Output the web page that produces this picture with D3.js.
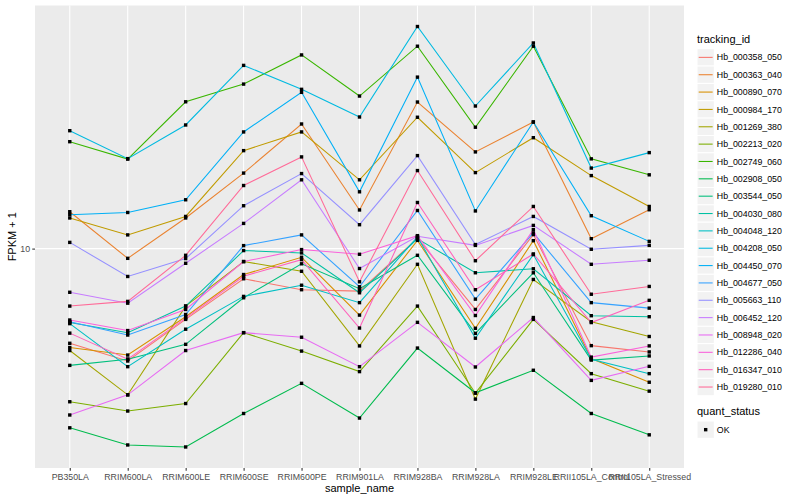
<!DOCTYPE html>
<html>
<head>
<meta charset="utf-8">
<script src="https://cdn.jsdelivr.net/npm/d3@7"></script>
<style>
  body { margin: 0; background: #fff; }
  text { font-family: "Liberation Sans", Arial, sans-serif; }
</style>
</head>
<body>
<svg id="chart" width="800" height="500"></svg>
<script>
// sample names (x axis)
var samples = ["PB350LA", "RRIM600LA", "RRIM600LE", "RRIM600SE", "RRIM600PE", "RRIM901LA",
               "RRIM928BA", "RRIM928LA", "RRIM928LE", "RRII105LA_Control", "RRII105LA_Stressed"];

var trackingIds = ["Hb_000358_050", "Hb_000363_040", "Hb_000890_070", "Hb_000984_170", "Hb_001269_380",
                   "Hb_002213_020", "Hb_002749_060", "Hb_002908_050", "Hb_003544_050", "Hb_004030_080",
                   "Hb_004048_120", "Hb_004208_050", "Hb_004450_070", "Hb_004677_050", "Hb_005663_110",
                   "Hb_006452_120", "Hb_008948_020", "Hb_012286_040", "Hb_016347_010", "Hb_019280_010"];

// FPKM + 1, one array per gene, in sample order
var hb_000358_050 = [4.17, 3.54, 5.20, 7.57, 6.84, 6.75, 10.99, 5.70, 11.38, 4.08, 3.85];
var hb_000363_040 = [14.06, 9.14, 13.27, 20.09, 31.62, 14.29, 38.73, 24.43, 32.21, 10.96, 14.32];
var hb_000890_070 = [4.01, 3.74, 5.33, 7.87, 9.23, 5.41, 10.79, 4.79, 10.76, 3.62, 2.91];
var hb_000984_170 = [13.27, 11.35, 13.46, 24.72, 29.38, 18.88, 33.65, 20.18, 27.86, 19.63, 14.76];
var hb_001269_380 = [3.90, 2.59, 5.88, 8.87, 8.11, 4.07, 8.65, 2.49, 7.52, 5.09, 4.44];
var hb_002213_020 = [2.43, 2.23, 2.39, 4.60, 3.88, 3.21, 5.88, 2.63, 5.20, 3.15, 2.68];
var hb_002749_060 = [26.85, 22.86, 38.82, 45.71, 59.84, 40.93, 64.86, 30.69, 64.86, 22.91, 19.77];
var hb_002908_050 = [1.91, 1.63, 1.60, 2.18, 2.88, 2.09, 3.99, 2.64, 3.25, 2.18, 1.79];
var hb_003544_050 = [3.40, 3.60, 4.13, 6.35, 8.69, 6.90, 9.40, 4.57, 8.00, 3.57, 3.71];
var hb_004030_080 = [5.05, 4.60, 5.88, 9.82, 9.61, 6.65, 10.94, 8.00, 8.30, 5.38, 5.33];
var hb_004048_120 = [5.00, 3.36, 4.75, 6.43, 7.13, 6.07, 11.14, 4.37, 9.46, 3.60, 3.15];
var hb_004208_050 = [29.72, 22.96, 31.33, 54.33, 43.55, 33.73, 77.80, 37.33, 66.83, 21.04, 24.27];
var hb_004450_070 = [13.68, 13.96, 15.70, 29.38, 42.36, 16.90, 48.75, 14.16, 32.21, 13.55, 10.69];
var hb_004677_050 = [5.09, 4.50, 5.44, 10.28, 11.35, 7.03, 14.22, 6.27, 11.56, 6.07, 5.77];
var hb_005663_110 = [10.59, 7.73, 9.12, 14.86, 20.00, 12.47, 23.61, 10.38, 13.46, 9.94, 10.30];
var hb_006452_120 = [6.68, 6.04, 8.73, 12.62, 18.88, 8.32, 11.20, 10.30, 12.39, 8.65, 8.98];
var hb_008948_020 = [2.15, 2.59, 3.90, 4.60, 4.41, 3.36, 5.06, 3.35, 5.29, 2.96, 3.37];
var hb_012286_040 = [5.17, 4.69, 5.70, 8.87, 9.91, 9.49, 11.27, 5.39, 11.91, 3.67, 4.07];
var hb_016347_010 = [4.58, 3.60, 5.26, 7.75, 9.03, 4.80, 15.31, 6.84, 9.52, 5.05, 6.20];
var hb_019280_010 = [5.88, 6.14, 9.40, 17.91, 23.33, 7.36, 20.56, 8.94, 14.76, 6.56, 7.05];

var seriesValues = [hb_000358_050, hb_000363_040, hb_000890_070, hb_000984_170, hb_001269_380,
                    hb_002213_020, hb_002749_060, hb_002908_050, hb_003544_050, hb_004030_080,
                    hb_004048_120, hb_004208_050, hb_004450_070, hb_004677_050, hb_005663_110,
                    hb_006452_120, hb_008948_020, hb_012286_040, hb_016347_010, hb_019280_010];

var quantStatus = ["OK"];

// ggplot-style hue palette (polar LUV, l = 65, c = 100)
function hueColour(h) {
  var l = 65, c = 100, hr = h * Math.PI / 180;
  var U = c * Math.cos(hr), V = c * Math.sin(hr);
  var Xn = 95.047, Yn = 100, Zn = 108.883;
  var den = Xn + 15 * Yn + 3 * Zn;
  var un = 4 * Xn / den, vn = 9 * Yn / den;
  var Y = Yn * Math.pow((l + 16) / 116, 3);
  var u = U / (13 * l) + un, v = V / (13 * l) + vn;
  var X = 9 * Y * u / (4 * v);
  var Z = Y * (12 - 3 * u - 20 * v) / (4 * v);
  X /= 100; Y /= 100; Z /= 100;
  var rgb = [
     3.240479 * X - 1.537150 * Y - 0.498535 * Z,
    -0.969256 * X + 1.875992 * Y + 0.041556 * Z,
     0.055648 * X - 0.204043 * Y + 1.057311 * Z
  ].map(function(t) {
    t = t <= 0.0031308 ? 12.92 * t : 1.055 * Math.pow(t, 1 / 2.4) - 0.055;
    return Math.round(Math.max(0, Math.min(1, t)) * 255);
  });
  return d3.rgb(rgb[0], rgb[1], rgb[2]).formatHex();
}

var n = trackingIds.length;
var colours = trackingIds.map(function(d, i) { return hueColour(15 + 360 * i / n); });

var svg = d3.select('#chart');
var panel = { left: 35, right: 684, top: 5.5, bottom: 468 };

var x = d3.scalePoint()
    .domain(samples)
    .range([panel.left, panel.right])
    .padding(0.6);

var all = seriesValues.flat();
var lo = Math.log10(d3.min(all)), hi = Math.log10(d3.max(all));
var pad = (hi - lo) * 0.05;
var y = d3.scaleLog()
    .domain([Math.pow(10, lo - pad), Math.pow(10, hi + pad)])
    .range([panel.bottom, panel.top]);

// panel background + grid
svg.append('rect')
    .attr('x', panel.left).attr('y', panel.top)
    .attr('width', panel.right - panel.left).attr('height', panel.bottom - panel.top)
    .attr('fill', '#EBEBEB');

svg.append('g').selectAll('line')
    .data(samples)
  .enter().append('line')
    .attr('x1', function(d) { return x(d); }).attr('x2', function(d) { return x(d); })
    .attr('y1', panel.top).attr('y2', panel.bottom)
    .attr('stroke', '#fff').attr('stroke-width', 1.07);

svg.append('line')
    .attr('x1', panel.left).attr('x2', panel.right)
    .attr('y1', y(10)).attr('y2', y(10))
    .attr('stroke', '#fff').attr('stroke-width', 1.07);

// lines
var line = d3.line()
    .x(function(d, i) { return x(samples[i]); })
    .y(function(d) { return y(d); });

svg.append('g').selectAll('path')
    .data(seriesValues)
  .enter().append('path')
    .attr('d', line)
    .attr('fill', 'none')
    .attr('stroke', function(d, i) { return colours[i]; })
    .attr('stroke-width', 1.07);

// points
var pts = [];
seriesValues.forEach(function(vals) {
  vals.forEach(function(v, i) { pts.push({ s: samples[i], v: v }); });
});
svg.append('g').selectAll('rect')
    .data(pts)
  .enter().append('rect')
    .attr('x', function(d) { return x(d.s) - 1.7; })
    .attr('y', function(d) { return y(d.v) - 1.7; })
    .attr('width', 3.4).attr('height', 3.4)
    .attr('fill', '#000');

// axes
var xAxis = svg.append('g')
    .attr('transform', 'translate(0,' + panel.bottom + ')')
    .call(d3.axisBottom(x).tickSize(2.74).tickPadding(3.2));
var yAxis = svg.append('g')
    .attr('transform', 'translate(' + panel.left + ',0)')
    .call(d3.axisLeft(y).tickValues([10]).tickFormat(d3.format('d')).tickSize(2.74).tickPadding(2.2));

[xAxis, yAxis].forEach(function(a) {
  a.select('.domain').remove();
  a.selectAll('.tick line').attr('stroke', '#333333').attr('stroke-width', 1.07);
  a.selectAll('.tick text')
      .attr('fill', '#4D4D4D')
      .style('font-size', '8.8px')
      .style('font-family', '"Liberation Sans", Arial, sans-serif');
});

svg.append('text')
    .attr('x', (panel.left + panel.right) / 2).attr('y', 491.5)
    .attr('text-anchor', 'middle')
    .style('font-size', '11px')
    .text('sample_name');

svg.append('text')
    .attr('transform', 'translate(16,' + (panel.top + panel.bottom) / 2 + ') rotate(-90)')
    .attr('text-anchor', 'middle')
    .style('font-size', '11px')
    .text('FPKM + 1');

// legend: tracking_id
var legX = 697, keyH = 17.35, keyTop = 48.7;
svg.append('text')
    .attr('x', legX).attr('y', 42.5)
    .style('font-size', '11px')
    .text('tracking_id');

var keys = svg.append('g').selectAll('g')
    .data(trackingIds)
  .enter().append('g')
    .attr('transform', function(d, i) { return 'translate(' + legX + ',' + (keyTop + i * keyH) + ')'; });

keys.append('rect')
    .attr('width', keyH).attr('height', keyH)
    .attr('fill', '#F2F2F2').attr('stroke', '#fff').attr('stroke-width', 1);
keys.append('line')
    .attr('x1', 1.7).attr('x2', keyH - 1.7)
    .attr('y1', keyH / 2).attr('y2', keyH / 2)
    .attr('stroke', function(d, i) { return colours[i]; })
    .attr('stroke-width', 1.07);
keys.append('text')
    .attr('x', keyH + 2.5).attr('y', keyH / 2)
    .attr('dy', '0.35em')
    .style('font-size', '8.8px')
    .text(function(d) { return d; });

// legend: quant_status
svg.append('text')
    .attr('x', legX).attr('y', 415)
    .style('font-size', '11px')
    .text('quant_status');

var qk = svg.append('g').selectAll('g')
    .data(quantStatus)
  .enter().append('g')
    .attr('transform', function(d, i) { return 'translate(' + legX + ',' + (421 + i * keyH) + ')'; });
qk.append('rect')
    .attr('width', keyH).attr('height', keyH)
    .attr('fill', '#F2F2F2').attr('stroke', '#fff');
qk.append('rect')
    .attr('x', keyH / 2 - 1.7).attr('y', keyH / 2 - 1.7)
    .attr('width', 3.4).attr('height', 3.4)
    .attr('fill', '#000');
qk.append('text')
    .attr('x', keyH + 2.5).attr('y', keyH / 2)
    .attr('dy', '0.35em')
    .style('font-size', '8.8px')
    .text(function(d) { return d; });
</script>
</body>
</html>
